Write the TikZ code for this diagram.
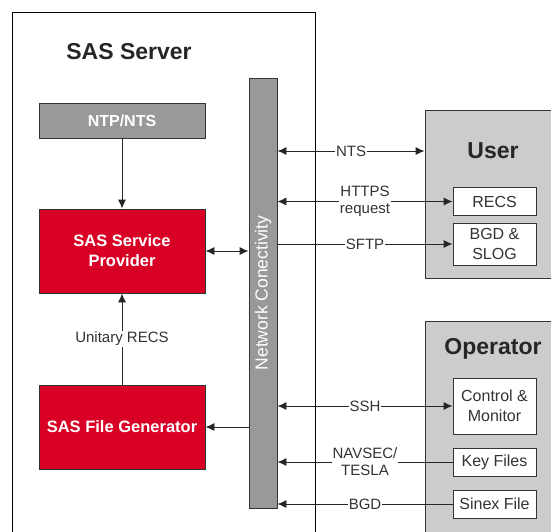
\documentclass[tikz,border=0pt]{standalone}
\usepackage{fontspec}
\setmainfont{Liberation Sans}
\usepackage{tikz}
\usetikzlibrary{arrows.meta,positioning,calc}
\definecolor{sasred}{HTML}{D90026}
\definecolor{sasgray}{HTML}{999999}
\definecolor{saslight}{HTML}{CCCCCC}
\definecolor{sasline}{HTML}{333333}
\tikzset{
  sasframe/.style={draw=black, line width=0.9pt, rectangle, anchor=north west},
  sasgroup/.style={draw=sasline, fill=saslight, line width=0.9pt, rectangle},
  sasred/.style={draw=sasline, fill=sasred, text=white, line width=0.9pt, minimum width=166pt,
    minimum height=84pt, align=center, font=\fontsize{16.5}{20}\selectfont\bfseries},
  sasgrey/.style={draw=sasline, fill=sasgray, text=white, line width=0.9pt, minimum width=166pt,
    minimum height=35pt, font=\fontsize{16}{19}\selectfont\bfseries},
  sasitem/.style={draw=sasline, fill=white, line width=0.9pt, minimum width=83pt, align=center,
    inner sep=1pt, text=sasline, font=\fontsize{16}{20}\selectfont},
  sastitle/.style={text=black!85, font=\fontsize{23}{27}\selectfont\bfseries},
  sasarrow/.style={-{Latex[length=9pt,width=8pt]}, line width=0.9pt, draw=black!85},
  sasdarrow/.style={{Latex[length=9pt,width=8pt]}-{Latex[length=9pt,width=8pt]}, line width=0.9pt, draw=black!85},
  saslabel/.style={fill=white, inner sep=1pt, align=center, text=sasline, midway,
    font=\fontsize{15}{17}\selectfont},
}
\begin{document}
\begin{tikzpicture}[x=1pt, y=-1pt]
  \useasboundingbox (0,0) rectangle (551,532);

  % server side
  \node[sasframe, minimum width=303pt, minimum height=540pt] (server) at (12,12) {};
  \node[sastitle] (servertitle) at (129,52) {SAS Server};
  \node[sasgrey] (ntp) at (122,120.5) {NTP/NTS};
  \node[sasred] (prov) at (122,251) {SAS Service\\Provider};
  \node[sasred] (gen) at (122,427) {SAS File Generator};
  \node[draw=sasline, fill=sasgray, line width=0.9pt, minimum width=28pt, minimum height=430pt] (net) at (263,293) {};
  \node[rotate=90, text=white, font=\fontsize{17.5}{20}\selectfont] (nettext) at (net.center) {Network Conectivity};

  % user side
  \node[sasgroup, minimum width=140pt, minimum height=168pt] (user) at (495,194) {};
  \node[sastitle] (usertitle) at (493,151) {User};
  \node[sasitem, minimum height=28pt] (recs) at (494.5,201.5) {RECS};
  \node[sasitem, minimum height=42pt] (bgd) at (494.5,244) {BGD \&\\SLOG};

  % operator side
  \node[sasgroup, minimum width=140pt, minimum height=224pt] (oper) at (495,433) {};
  \node[sastitle] (opertitle) at (493,349) {Operator};
  \node[sasitem, minimum height=56pt] (ctrl) at (494.5,406) {Control \&\\Monitor};
  \node[sasitem, minimum height=28pt] (key) at (494.5,462) {Key Files};
  \node[sasitem, minimum height=28pt] (sinex) at (494.5,504) {Sinex File};

  \draw[sasarrow] (ntp) -- (prov);
  \draw[sasarrow] (gen) -- node[saslabel] {Unitary RECS} (prov);
  \draw[sasdarrow] (prov.east) -- (prov.east -| net.west);
  \draw[sasarrow] (net.west |- gen.east) -- (gen.east);

  \draw[sasdarrow] (net.east |- usertitle) -- node[saslabel] {NTS} (user.west |- usertitle);
  \draw[sasdarrow] (net.east |- recs.west) -- node[saslabel] {HTTPS\\request} (recs.west);
  \draw[sasarrow] (net.east |- bgd.west) -- node[saslabel] {SFTP} (bgd.west);
  \draw[sasdarrow] (net.east |- ctrl.west) -- node[saslabel] {SSH} (ctrl.west);
  \draw[sasarrow] (key.west) -- node[saslabel] {NAVSEC/\\TESLA} (net.east |- key.west);
  \draw[sasarrow] (sinex.west) -- node[saslabel] {BGD} (net.east |- sinex.west);
\end{tikzpicture}
\end{document}
